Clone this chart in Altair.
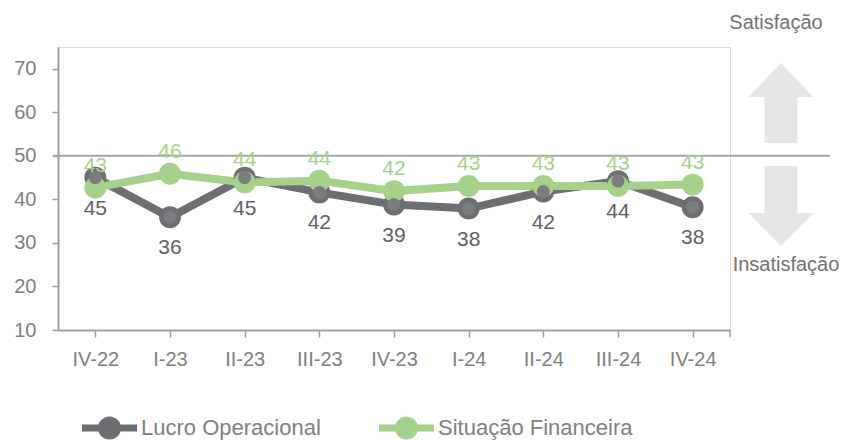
import altair as alt
import pandas as pd

quarters = ["IV-22", "I-23", "II-23", "III-23", "IV-23", "I-24", "II-24", "III-24", "IV-24"]
lucro = [45.0, 35.9, 45.0, 41.6, 38.8, 37.9, 41.8, 44.2, 38.2]
lucro_lbl = [45, 36, 45, 42, 39, 38, 42, 44, 38]
situacao = [42.7, 45.9, 43.9, 44.3, 41.9, 43.1, 43.1, 43.1, 43.4]
situacao_lbl = [43, 46, 44, 44, 42, 43, 43, 43, 43]
series = ["Lucro Operacional", "Situação Financeira"]
colors = ["#6D6E71", "#A6D18B"]
label_colors = ["#606163", "#A9D18E"]

FONT = "Liberation Sans"

rows = []
for i, q in enumerate(quarters):
    rows.append({"q": q, "serie": series[0], "v": lucro[i], "lbl": lucro_lbl[i], "o": 0})
    rows.append({"q": q, "serie": series[1], "v": situacao[i], "lbl": situacao_lbl[i], "o": 1})
df = pd.DataFrame(rows)

W, H = 672, 283

xenc = alt.X("q:N", sort=quarters, title=None,
             scale=alt.Scale(paddingInner=0, paddingOuter=0),
             axis=alt.Axis(bandPosition=0, labelFont=FONT, labelFontSize=20, labelColor="#808080",
                           labelPadding=12, tickSize=7, tickColor="#A0A0A0", domainColor="#A0A0A0",
                           domainWidth=2, tickWidth=1.5, labelAngle=0, grid=False))
yscale = alt.Scale(domain=[10, 75], nice=False, zero=False)
yenc = alt.Y("v:Q", title=None, scale=yscale,
             axis=alt.Axis(values=[10, 20, 30, 40, 50, 60, 70], labelFont=FONT, labelFontSize=20,
                           labelColor="#808080", labelPadding=16, tickSize=6, tickColor="#A0A0A0",
                           domainColor="#A0A0A0", domainWidth=2, tickWidth=1.5, grid=False))

legend_path = ("M-1,-0.13 H1 V0.13 H-1 Z "
               "M-0.42,0 A0.42,0.42 0 1,1 0.42,0 A0.42,0.42 0 1,1 -0.42,0 Z")
color = alt.Color("serie:N", scale=alt.Scale(domain=series, range=colors), title=None,
                  legend=alt.Legend(orient="none", legendX=24, legendY=353, direction="horizontal",
                                    symbolType=legend_path, symbolSize=3025, symbolStrokeWidth=0,
                                    labelFont=FONT, labelFontSize=22, labelColor="#808080",
                                    labelOffset=4, columnPadding=58, padding=0, labelLimit=400))

base = alt.Chart(df)

ref_rule = alt.Chart(pd.DataFrame({"y": [50]})).mark_rule(color="#A6A6A6", strokeWidth=2).encode(
    y=alt.Y("y:Q", scale=yscale), x=alt.value(-5), x2=alt.value(772))

end_tick = alt.Chart(pd.DataFrame({"y": [10]})).mark_rule(color="#A0A0A0", strokeWidth=1.5).encode(
    x=alt.value(W), y=alt.value(H), y2=alt.value(H + 7))

lines = base.mark_line(strokeWidth=8).encode(x=xenc, y=yenc, color=color, order=alt.Order("o:Q"))
points = base.mark_point(filled=True, size=480, opacity=1).encode(
    x=xenc, y=yenc, color=color)
inner = base.transform_filter(alt.datum.o == 0).mark_point(filled=True, size=170, opacity=1, color="#7B7C7E").encode(
    x=xenc, y=yenc)
lbl_g = base.transform_filter(alt.datum.o == 0).mark_text(
    font=FONT, fontSize=21, color=label_colors[0], dy=31).encode(x=xenc, y=yenc, text="lbl:Q")
lbl_s = base.transform_filter(alt.datum.o == 1).mark_text(
    font=FONT, fontSize=21, color=label_colors[1], dy=-22).encode(x=xenc, y=yenc, text="lbl:Q")

up_path = "M0,-1 L0.81,-0.15 L0.41,-0.15 L0.41,1 L-0.41,1 L-0.41,-0.15 L-0.81,-0.15 Z"
down_path = "M0,1 L0.81,0.175 L0.41,0.175 L0.41,-1 L-0.41,-1 L-0.41,0.175 L-0.81,0.175 Z"
arrow_up = alt.Chart(pd.DataFrame({"a": [1]})).mark_point(
    shape=up_path, size=6400, filled=True, color="#E6E6E7", opacity=1).encode(
    x=alt.value(723), y=alt.value(56))
arrow_down = alt.Chart(pd.DataFrame({"a": [1]})).mark_point(
    shape=down_path, size=6400, filled=True, color="#E6E6E7", opacity=1).encode(
    x=alt.value(723), y=alt.value(159))
txt_sat = alt.Chart(pd.DataFrame({"t": ["Satisfação"]})).mark_text(
    font=FONT, fontSize=20, color="#737373").encode(x=alt.value(718), y=alt.value(-24), text="t:N")
txt_ins = alt.Chart(pd.DataFrame({"t": ["Insatisfação"]})).mark_text(
    font=FONT, fontSize=20, color="#737373").encode(x=alt.value(728), y=alt.value(218), text="t:N")

chart = alt.layer(arrow_up, arrow_down, txt_sat, txt_ins, ref_rule, end_tick,
                  lines, points, inner, lbl_g, lbl_s).properties(
    width=W, height=H,
    autosize=alt.AutoSizeParams(type="none"),
    padding={"left": 50, "top": 39, "right": 114, "bottom": 111},
).configure_view(stroke=None).configure(background="white")

chart.save("out.html", embed_options={"renderer": "svg", "actions": False})
